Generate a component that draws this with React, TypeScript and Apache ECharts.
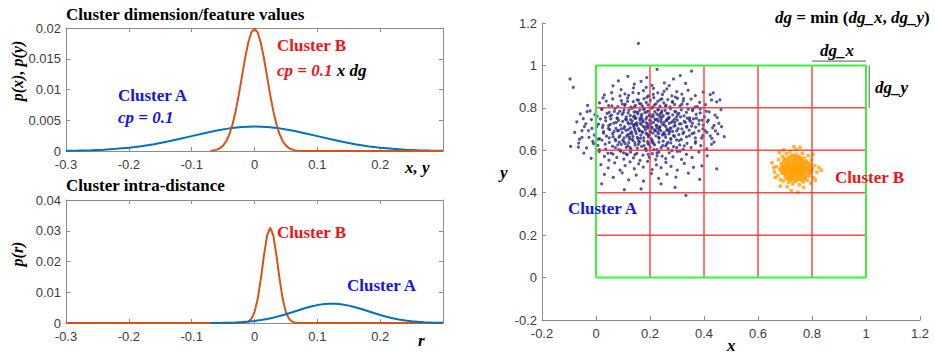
import React, { useEffect, useRef } from "react";
import * as echarts from "echarts";

// ---------- Top-left: cluster dimension/feature values ----------
const TOP_A_X = [-0.3,-0.28,-0.26,-0.24,-0.22,-0.2,-0.18,-0.16,-0.14,-0.12,-0.1,-0.08,-0.06,-0.04,-0.02,0,0.02,0.04,0.06,0.08,0.1,0.12,0.14,0.16,0.18,0.2,0.22,0.24,0.26,0.28,0.3];
const TOP_A_Y = [0.00004,0.00008,0.00014,0.00022,0.00035,0.00054,0.00079,0.00111,0.0015,0.00194,0.00242,0.0029,0.00333,0.00368,0.00391,0.00399,0.00391,0.00368,0.00333,0.0029,0.00242,0.00194,0.0015,0.00111,0.00079,0.00054,0.00035,0.00022,0.00014,0.00008,0.00004];
const TOP_B_X = [-0.07,-0.065,-0.06,-0.055,-0.05,-0.045,-0.04,-0.035,-0.03,-0.025,-0.02,-0.015,-0.01,-0.005,0,0.005,0.01,0.015,0.02,0.025,0.03,0.035,0.04,0.045,0.05,0.055,0.06,0.065,0.07,0.08,0.3];
const TOP_B_Y = [0.00004,0.0001,0.00022,0.00045,0.00088,0.00159,0.0027,0.00432,0.00648,0.00913,0.0121,0.0151,0.0176,0.0193,0.0199,0.0193,0.0176,0.0151,0.0121,0.00913,0.00648,0.00432,0.0027,0.00159,0.00088,0.00045,0.00022,0.0001,0.00004,0,0];

// ---------- Bottom-left: cluster intra-distance ----------
const BOT_B_X = [-0.3,-0.025,-0.02,-0.015,-0.01,-0.005,0,0.005,0.01,0.015,0.02,0.025,0.03,0.035,0.04,0.045,0.05,0.055,0.06,0.065,0.07,0.075,0.3];
const BOT_B_Y = [0,0,0.00003,0.00012,0.00044,0.00136,0.00354,0.0077,0.0142,0.0219,0.0284,0.031,0.0284,0.0219,0.0142,0.0077,0.00354,0.00136,0.00044,0.00012,0.00003,0,0];
const BOT_A_X = [-0.07,-0.06,-0.05,-0.04,-0.03,-0.02,-0.01,0,0.01,0.02,0.03,0.04,0.05,0.06,0.07,0.08,0.09,0.1,0.11,0.12,0.13,0.14,0.15,0.16,0.17,0.18,0.19,0.2,0.21,0.22,0.23,0.24,0.25,0.26,0.27,0.28,0.29,0.3];
const BOT_A_Y = [0.00002,0.00004,0.00007,0.00012,0.00019,0.0003,0.00045,0.00066,0.00094,0.0013,0.00174,0.00226,0.00285,0.00349,0.00415,0.00479,0.00536,0.00582,0.00614,0.00629,0.00625,0.00603,0.00565,0.00514,0.00454,0.00389,0.00323,0.00261,0.00205,0.00156,0.00115,0.00082,0.00057,0.00039,0.00025,0.00016,0.0001,0.00006];

// ---------- Right: scatter ----------
const CLUSTER_A: number[][] = [
[0.157,1.104],[-0.096,0.936],[-0.084,0.897],[-0.094,0.618],[-0.065,0.615],[0.459,0.838],[0.434,0.871],[0.447,0.828],
[0.021,0.442],[0.105,0.414],[0.167,0.418],[0.241,0.442],[0.293,0.425],[0.333,0.387],
[0.083,0.927],[0.142,0.912],[0.188,0.943],[0.226,0.981],[0.253,0.918],[0.287,0.936],[0.312,0.952],[0.354,0.973],[0.207,0.906],[0.118,0.948],[0.167,0.925],[0.271,0.905],[0.332,0.915],[0.063,0.904],
[0.058,0.872],[0.093,0.886],[0.121,0.859],[0.139,0.894],[0.158,0.868],[0.176,0.881],[0.194,0.856],[0.213,0.892],[0.229,0.871],[0.246,0.863],[0.262,0.889],[0.281,0.857],[0.299,0.876],[0.318,0.865],[0.341,0.883],[0.368,0.858],[0.397,0.874],[0.031,0.861],[0.186,0.897],[0.252,0.878],[0.107,0.866],[0.423,0.862],
[0.013,0.823],[0.047,0.811],[0.062,0.842],[0.081,0.806],[0.094,0.834],[0.108,0.817],[0.117,0.846],[0.129,0.803],[0.138,0.829],[0.146,0.812],[0.153,0.838],[0.161,0.821],[0.172,0.807],[0.178,0.843],[0.186,0.826],[0.193,0.814],[0.201,0.835],[0.209,0.802],[0.214,0.848],[0.222,0.819],[0.229,0.831],[0.237,0.808],[0.244,0.842],[0.251,0.824],[0.259,0.813],[0.266,0.839],[0.274,0.805],[0.283,0.827],[0.291,0.816],[0.302,0.845],[0.311,0.809],[0.323,0.832],[0.338,0.818],[0.352,0.841],[0.367,0.804],[0.384,0.826],[0.405,0.815],[0.428,0.837],[-0.031,0.812],[0.026,0.847],
[-0.058,0.772],[-0.022,0.786],[0.004,0.761],[0.021,0.793],[0.035,0.754],[0.049,0.779],[0.058,0.766],[0.071,0.797],[0.079,0.752],[0.088,0.784],[0.097,0.769],[0.104,0.791],[0.112,0.757],[0.119,0.776],[0.127,0.764],[0.133,0.798],[0.141,0.781],[0.148,0.753],[0.155,0.772],[0.162,0.789],[0.168,0.761],[0.175,0.794],[0.181,0.777],[0.188,0.756],[0.194,0.785],[0.199,0.768],[0.206,0.799],[0.212,0.759],[0.218,0.782],[0.225,0.771],[0.231,0.792],[0.238,0.755],[0.243,0.778],[0.249,0.763],[0.256,0.788],[0.262,0.774],[0.269,0.751],[0.276,0.796],[0.284,0.767],[0.292,0.783],[0.299,0.758],[0.307,0.774],[0.316,0.791],[0.326,0.762],[0.335,0.779],[0.347,0.753],[0.358,0.787],[0.371,0.769],[0.386,0.795],[0.402,0.758],[0.419,0.781],[0.441,0.766],[0.463,0.792],[0.142,0.762],[0.233,0.765],
[-0.071,0.734],[-0.043,0.712],[-0.017,0.745],[0.009,0.723],[0.024,0.707],[0.036,0.739],[0.047,0.716],[0.055,0.748],[0.066,0.728],[0.074,0.703],[0.083,0.741],[0.091,0.719],[0.099,0.736],[0.106,0.711],[0.113,0.744],[0.121,0.725],[0.127,0.706],[0.134,0.738],[0.139,0.717],[0.145,0.749],[0.151,0.729],[0.157,0.702],[0.163,0.743],[0.168,0.721],[0.174,0.735],[0.179,0.709],[0.185,0.747],[0.191,0.726],[0.196,0.714],[0.202,0.738],[0.207,0.703],[0.213,0.731],[0.219,0.746],[0.224,0.718],[0.23,0.737],[0.236,0.708],[0.241,0.744],[0.247,0.722],[0.253,0.733],[0.259,0.711],[0.265,0.748],[0.271,0.727],[0.278,0.705],[0.285,0.739],[0.293,0.716],[0.301,0.742],[0.309,0.724],[0.318,0.701],[0.327,0.736],[0.336,0.713],[0.346,0.745],[0.357,0.728],[0.369,0.709],[0.382,0.741],[0.397,0.719],[0.413,0.734],[0.432,0.706],[0.455,0.727],[0.118,0.732],[0.188,0.713],[0.262,0.741],[0.171,0.748],[0.226,0.704],[0.142,0.722],[0.292,0.731],
[-0.079,0.684],[-0.052,0.661],[-0.028,0.693],[-0.006,0.672],[0.013,0.655],[0.028,0.688],[0.039,0.667],[0.051,0.697],[0.062,0.678],[0.071,0.652],[0.08,0.691],[0.089,0.669],[0.097,0.683],[0.104,0.658],[0.111,0.694],[0.118,0.674],[0.124,0.653],[0.131,0.687],[0.137,0.665],[0.143,0.699],[0.149,0.679],[0.155,0.656],[0.161,0.692],[0.166,0.671],[0.172,0.684],[0.177,0.659],[0.183,0.697],[0.189,0.676],[0.194,0.663],[0.2,0.689],[0.205,0.654],[0.211,0.681],[0.217,0.696],[0.222,0.668],[0.228,0.686],[0.234,0.657],[0.24,0.693],[0.246,0.672],[0.252,0.683],[0.258,0.661],[0.264,0.698],[0.27,0.677],[0.277,0.655],[0.284,0.689],[0.291,0.666],[0.299,0.692],[0.307,0.674],[0.316,0.651],[0.325,0.686],[0.335,0.663],[0.345,0.695],[0.356,0.678],[0.368,0.658],[0.381,0.691],[0.395,0.669],[0.411,0.684],[0.429,0.656],[0.451,0.677],[0.475,0.664],[0.126,0.679],[0.197,0.671],[0.271,0.691],[0.165,0.656],[0.232,0.678],[0.085,0.662],
[-0.064,0.634],[-0.035,0.611],[-0.012,0.642],[0.007,0.623],[0.022,0.648],[0.036,0.606],[0.049,0.637],[0.061,0.619],[0.073,0.645],[0.084,0.603],[0.094,0.628],[0.103,0.641],[0.112,0.614],[0.121,0.636],[0.129,0.607],[0.137,0.647],[0.145,0.624],[0.153,0.61],[0.161,0.639],[0.169,0.618],[0.177,0.644],[0.185,0.605],[0.193,0.631],[0.201,0.615],[0.209,0.646],[0.217,0.626],[0.225,0.603],[0.233,0.638],[0.241,0.612],[0.249,0.643],[0.258,0.621],[0.267,0.608],[0.277,0.635],[0.287,0.617],[0.298,0.649],[0.31,0.625],[0.323,0.604],[0.337,0.633],[0.352,0.613],[0.369,0.641],[0.388,0.622],[0.41,0.607],[0.437,0.638],[0.213,0.633],[0.157,0.628],[0.118,0.622],[0.262,0.629],[0.191,0.641],[0.081,0.625],
[-0.045,0.587],[-0.018,0.562],[0.012,0.594],[0.031,0.571],[0.048,0.553],[0.063,0.582],[0.077,0.566],[0.091,0.596],[0.103,0.558],[0.116,0.579],[0.128,0.591],[0.139,0.564],[0.151,0.585],[0.163,0.552],[0.174,0.577],[0.186,0.598],[0.197,0.567],[0.209,0.584],[0.221,0.556],[0.233,0.592],[0.245,0.573],[0.258,0.561],[0.271,0.588],[0.285,0.569],[0.301,0.595],[0.317,0.557],[0.335,0.581],[0.356,0.566],[0.381,0.592],[0.412,0.574],[0.144,0.579],[0.226,0.574],[0.193,0.581],[0.102,0.588],
[0.018,0.532],[0.045,0.517],[0.069,0.541],[0.089,0.506],[0.108,0.528],[0.126,0.545],[0.142,0.513],[0.158,0.536],[0.175,0.521],[0.191,0.548],[0.208,0.509],[0.224,0.531],[0.241,0.518],[0.259,0.543],[0.278,0.524],[0.301,0.507],[0.327,0.538],[0.361,0.519],[0.392,0.527],[0.447,0.512],
[0.031,0.486],[0.064,0.472],[0.097,0.494],[0.121,0.461],[0.149,0.483],[0.176,0.455],[0.205,0.491],[0.232,0.468],[0.263,0.487],[0.296,0.474],[0.342,0.492],[0.384,0.463]
];

const CLUSTER_A_CORE: number[][] = [
[0.003,0.712],[0.016,0.748],[0.028,0.681],[0.041,0.774],[0.009,0.652],[0.034,0.629],[0.046,0.703],[0.022,0.795],[0.038,0.832],[0.012,0.603],[0.044,0.586],[-0.004,0.768],[0.026,0.718],[0.049,0.659],
[0.053,0.722],[0.067,0.689],[0.078,0.751],[0.086,0.638],[0.059,0.809],[0.072,0.612],[0.094,0.701],[0.081,0.773],[0.063,0.664],[0.097,0.819],[0.056,0.587],[0.089,0.856],[0.075,0.731],[0.099,0.647],[0.068,0.783],[0.084,0.694],[0.052,0.761],[0.091,0.598],
[0.103,0.703],[0.114,0.667],[0.122,0.789],[0.131,0.726],[0.108,0.631],[0.139,0.758],[0.146,0.689],[0.117,0.831],[0.126,0.612],[0.142,0.804],[0.109,0.746],[0.134,0.651],[0.148,0.724],[0.119,0.697],[0.137,0.872],[0.101,0.778],[0.128,0.744],[0.144,0.636],[0.112,0.583],[0.133,0.679],[0.147,0.781],[0.106,0.812],[0.124,0.662],[0.141,0.708],
[0.152,0.717],[0.163,0.752],[0.171,0.688],[0.179,0.794],[0.158,0.643],[0.186,0.729],[0.194,0.671],[0.167,0.818],[0.183,0.607],[0.197,0.763],[0.155,0.779],[0.174,0.737],[0.189,0.851],[0.161,0.694],[0.178,0.622],[0.192,0.704],[0.169,0.769],[0.199,0.742],[0.157,0.836],[0.185,0.681],[0.176,0.712],[0.153,0.661],[0.195,0.628],[0.164,0.728],[0.188,0.781],
[0.203,0.724],[0.211,0.768],[0.219,0.692],[0.227,0.747],[0.236,0.711],[0.244,0.786],[0.208,0.639],[0.216,0.813],[0.232,0.661],[0.241,0.733],[0.249,0.679],[0.205,0.758],[0.223,0.716],[0.238,0.839],[0.214,0.603],[0.229,0.791],[0.247,0.622],[0.202,0.686],[0.221,0.744],[0.234,0.697],[0.245,0.757],[0.212,0.864],[0.226,0.587],[0.239,0.773],[0.207,0.709],
[0.253,0.719],[0.262,0.694],[0.271,0.756],[0.279,0.731],[0.287,0.669],[0.296,0.781],[0.258,0.808],[0.266,0.637],[0.274,0.703],[0.283,0.829],[0.291,0.747],[0.299,0.612],[0.256,0.673],[0.268,0.774],[0.277,0.652],[0.289,0.714],[0.294,0.851],[0.261,0.741],[0.281,0.598],[0.273,0.687],
[0.304,0.702],[0.313,0.758],[0.322,0.679],[0.331,0.731],[0.342,0.794],[0.308,0.646],[0.318,0.817],[0.327,0.621],[0.336,0.709],[0.346,0.668],[0.303,0.769],[0.315,0.724],[0.338,0.752],[0.324,0.843],[0.349,0.737],[0.311,0.596],
[0.354,0.714],[0.363,0.682],[0.372,0.751],[0.381,0.723],[0.391,0.657],[0.358,0.793],[0.368,0.634],[0.386,0.776],[0.396,0.701],[0.375,0.806],[0.361,0.748],[0.393,0.742],
[0.404,0.693],[0.416,0.742],[0.423,0.668],[0.437,0.717],[0.449,0.754],[0.408,0.784],[0.428,0.628],[0.442,0.691],[0.465,0.711],
[-0.038,0.724],[-0.052,0.693],[-0.026,0.661],[-0.047,0.749],[-0.015,0.703],[-0.061,0.652],[-0.033,0.782],[-0.009,0.631]
];

const CLUSTER_B: number[][] = [
[0.712,0.546],[0.724,0.543],[0.735,0.548],[0.747,0.544],[0.758,0.547],[0.731,0.552],
[0.703,0.538],[0.715,0.536],[0.727,0.539],[0.739,0.535],[0.751,0.538],[0.763,0.536],[0.772,0.539],
[0.698,0.529],[0.709,0.531],[0.721,0.528],[0.733,0.532],[0.744,0.529],[0.756,0.531],[0.767,0.528],[0.778,0.531],
[0.694,0.522],[0.705,0.52],[0.717,0.523],[0.729,0.521],[0.74,0.524],[0.752,0.52],[0.763,0.523],[0.775,0.521],[0.785,0.523],
[0.692,0.514],[0.703,0.512],[0.714,0.515],[0.726,0.513],[0.737,0.516],[0.749,0.512],[0.76,0.515],[0.771,0.513],[0.783,0.515],
[0.695,0.506],[0.706,0.504],[0.718,0.507],[0.73,0.505],[0.741,0.508],[0.753,0.504],[0.764,0.507],[0.776,0.505],[0.787,0.507],
[0.699,0.498],[0.711,0.496],[0.722,0.499],[0.734,0.497],[0.745,0.5],[0.757,0.496],[0.768,0.499],[0.779,0.497],
[0.704,0.49],[0.716,0.488],[0.728,0.491],[0.739,0.489],[0.751,0.492],[0.762,0.488],[0.773,0.491],
[0.711,0.482],[0.723,0.48],[0.735,0.483],[0.746,0.481],[0.758,0.484],[0.768,0.481],
[0.719,0.474],[0.731,0.472],[0.743,0.475],[0.755,0.473],
[0.727,0.517],[0.744,0.509],[0.736,0.501],[0.752,0.527],[0.719,0.511],[0.761,0.503],[0.708,0.517],[0.741,0.536],[0.733,0.487],[0.767,0.517],
[0.718,0.558],[0.729,0.562],[0.741,0.559],[0.752,0.556],[0.764,0.553],[0.735,0.571],[0.747,0.567],[0.724,0.574],[0.758,0.566],[0.741,0.581],
[0.708,0.552],[0.776,0.546],[0.784,0.538],[0.791,0.527],[0.796,0.516],[0.794,0.503],[0.789,0.491],[0.782,0.478],[0.773,0.466],[0.761,0.459],[0.748,0.462],[0.736,0.461],[0.724,0.463],[0.712,0.469],[0.701,0.482],[0.693,0.493],[0.687,0.505],[0.685,0.518],[0.688,0.531],[0.695,0.545],[0.701,0.556],
[0.746,0.518],[0.733,0.526],[0.757,0.511],[0.722,0.505],[0.739,0.493],[0.769,0.526],[0.714,0.528],[0.751,0.547],[0.726,0.484],
[0.652,0.541],[0.661,0.498],[0.668,0.523],[0.672,0.481],[0.676,0.556],[0.681,0.509],[0.683,0.462],[0.687,0.538],[0.689,0.492],[0.691,0.571],[0.694,0.455],[0.697,0.561],[0.701,0.473],[0.705,0.584],[0.708,0.463],[0.712,0.567],[0.714,0.447],[0.718,0.593],[0.721,0.458],[0.726,0.576],[0.729,0.441],[0.734,0.564],[0.737,0.452],[0.741,0.604],[0.745,0.461],[0.749,0.571],[0.753,0.437],[0.757,0.559],[0.761,0.466],[0.764,0.585],[0.768,0.451],[0.771,0.562],[0.775,0.472],[0.779,0.549],[0.782,0.459],[0.786,0.574],[0.789,0.481],[0.792,0.538],[0.795,0.495],[0.798,0.557],[0.801,0.512],[0.806,0.471],[0.811,0.528],[0.818,0.497],[0.826,0.519],[0.835,0.505],[0.664,0.472],[0.679,0.589],[0.723,0.409],[0.748,0.402],[0.769,0.425],[0.708,0.428],[0.795,0.445],[0.803,0.581],[0.658,0.518],[0.683,0.431],[0.733,0.617],[0.812,0.459],[0.756,0.614],[0.695,0.602]
];

const GRID_LINES = [0.2, 0.4, 0.6, 0.8];
const BOX = [[0, 0], [1, 0], [1, 1], [0, 1], [0, 0]];
const DGX_LINE = [[0.8, 1.02], [1.0, 1.02]];
const DGY_LINE = [[1.012, 1.0], [1.012, 0.8]];

const BLUE = "#0072BD";
const ORANGE = "#D95319";
const TXT_RED = "#f01414";
const TXT_BLUE = "#1414e6";
const SERIF = "'Liberation Serif', 'Times New Roman', serif";
const SANS = "'Liberation Sans', Arial, sans-serif";

const zip = (xs: number[], ys: number[]) => xs.map((x, i) => [x, ys[i]]);

const fmt = (v: number) => {
  const r = Math.round(v * 1000) / 1000;
  return String(r);
};

export default function App() {
  const ref = useRef<HTMLDivElement>(null);
  useEffect(() => {
    document.body.style.margin = "0";
    const chart = echarts.init(ref.current!, null, { renderer: "svg" });
    const axisGray = "#8c8c8c";
    const label = { fontFamily: SANS, fontSize: 13, color: "#3c3c3c" };
    const mkX = (grid: number, pos: "bottom" | "top", show: boolean, min: number, max: number, interval: number, hideLast: boolean) => ({
      type: "value", gridIndex: grid, position: pos, min, max, interval,
      axisLine: { show: true, onZero: false, lineStyle: { color: axisGray, width: 1 } },
      axisTick: { show: true, inside: true, length: 4, lineStyle: { color: axisGray } },
      axisLabel: {
        show, margin: 7, ...label,
        formatter: (v: number) => (hideLast && Math.abs(v - max) < 1e-9 ? "" : fmt(v)),
      },
      splitLine: { show: false },
    });
    const mkY = (grid: number, pos: "left" | "right", show: boolean, min: number, max: number, interval: number) => ({
      type: "value", gridIndex: grid, position: pos, min, max, interval,
      axisLine: { show: true, onZero: false, lineStyle: { color: axisGray, width: 1 } },
      axisTick: { show: true, inside: true, length: 4, lineStyle: { color: axisGray } },
      axisLabel: { show, margin: 5, ...label, formatter: (v: number) => fmt(v) },
      splitLine: { show: false },
    });
    const redLines = GRID_LINES.flatMap((g) => [
      { type: "line", xAxisIndex: 4, yAxisIndex: 4, data: [[g, 0], [g, 1]], symbol: "none", z: 5, lineStyle: { color: "#ff2a2a", width: 1.5, opacity: 0.85 } },
      { type: "line", xAxisIndex: 4, yAxisIndex: 4, data: [[0, g], [1, g]], symbol: "none", z: 5, lineStyle: { color: "#ff2a2a", width: 1.5, opacity: 0.85 } },
    ]);
    const F = `bold 17px ${SERIF}`;
    const FI = `italic bold 17px ${SERIF}`;
    const txt = (x: number, y: number, text: string, fill: string, opts: any = {}) => ({
      type: "text", x, y, z: 100,
      style: {
        text, fill, font: opts.font || F,
        textAlign: opts.align || "left", textVerticalAlign: "middle", rich: opts.rich,
      },
      rotation: opts.rotation || 0,
    });
    chart.setOption({
      animation: false,
      grid: [
        { left: 66, top: 28, width: 377, height: 123 },
        { left: 66, top: 200, width: 377, height: 123 },
        { left: 542, top: 23, width: 378, height: 297 },
      ],
      xAxis: [
        mkX(0, "bottom", true, -0.3, 0.3, 0.1, true),
        mkX(0, "top", false, -0.3, 0.3, 0.1, true),
        mkX(1, "bottom", true, -0.3, 0.3, 0.1, true),
        mkX(1, "top", false, -0.3, 0.3, 0.1, true),
        mkX(2, "bottom", true, -0.2, 1.2, 0.2, false),
      ],
      yAxis: [
        mkY(0, "left", true, 0, 0.02, 0.005),
        mkY(0, "right", false, 0, 0.02, 0.005),
        mkY(1, "left", true, 0, 0.04, 0.01),
        mkY(1, "right", false, 0, 0.04, 0.01),
        mkY(2, "left", true, -0.2, 1.2, 0.2),
      ],
      series: [
        { type: "line", xAxisIndex: 0, yAxisIndex: 0, data: zip(TOP_A_X, TOP_A_Y), symbol: "none", lineStyle: { color: BLUE, width: 2 }, z: 2 },
        { type: "line", xAxisIndex: 0, yAxisIndex: 0, data: zip(TOP_B_X, TOP_B_Y), symbol: "none", lineStyle: { color: ORANGE, width: 2 }, z: 3 },
        { type: "line", xAxisIndex: 2, yAxisIndex: 2, data: zip(BOT_B_X, BOT_B_Y), symbol: "none", lineStyle: { color: ORANGE, width: 2 }, z: 2 },
        { type: "line", xAxisIndex: 2, yAxisIndex: 2, data: zip(BOT_A_X, BOT_A_Y), symbol: "none", lineStyle: { color: BLUE, width: 2 }, z: 3 },
        { type: "scatter", xAxisIndex: 4, yAxisIndex: 4, data: CLUSTER_A.concat(CLUSTER_A_CORE), symbol: "circle", symbolSize: 3.2, itemStyle: { color: "#2e2a88" }, z: 2 },
        { type: "scatter", xAxisIndex: 4, yAxisIndex: 4, data: CLUSTER_B, symbol: "rect", symbolSize: 3.5, itemStyle: { color: "#ffa10a" }, z: 2 },
        ...redLines,
        { type: "line", xAxisIndex: 4, yAxisIndex: 4, data: BOX, symbol: "none", z: 6, lineStyle: { color: "#3cf03c", width: 2 } },
        { type: "line", xAxisIndex: 4, yAxisIndex: 4, data: DGX_LINE, symbol: "none", z: 6, lineStyle: { color: "#7a7a7a", width: 1.2 } },
        { type: "line", xAxisIndex: 4, yAxisIndex: 4, data: DGY_LINE, symbol: "none", z: 6, lineStyle: { color: "#7a7a7a", width: 1.2 } },
      ],
      graphic: [
        txt(66, 14, "Cluster dimension/feature values", "#000"),
        txt(66, 185, "Cluster intra-distance", "#000"),
        txt(17, 71, "p(x), p(y)", "#000", { font: `italic bold 16px ${SERIF}`, align: "center", rotation: Math.PI / 2 }),
        txt(17, 254, "p(r)", "#000", { font: `italic bold 16px ${SERIF}`, align: "center", rotation: Math.PI / 2 }),
        txt(405, 167, "x, y", "#000", { font: FI }),
        txt(418, 340, "r", "#000", { font: FI }),
        txt(118, 95, "Cluster A", TXT_BLUE),
        txt(118, 117, "cp = 0.1", TXT_BLUE, { font: FI }),
        txt(277, 45, "Cluster B", TXT_RED),
        txt(277, 70, "{r|cp = 0.1} {k|x dg}", TXT_RED, {
          font: FI,
          rich: {
            r: { fill: TXT_RED, font: FI },
            k: { fill: "#000", font: FI },
          },
        }),
        txt(277, 232, "Cluster B", TXT_RED),
        txt(347, 285, "Cluster A", TXT_BLUE),
        txt(568, 208, "Cluster A", TXT_BLUE),
        txt(835, 177, "Cluster B", TXT_RED),
        txt(775, 17, "{i|dg} {n|= min (}{i|dg_x}{n|, }{i|dg_y}{n|)}", "#000", {
          rich: {
            i: { fill: "#000", font: FI },
            n: { fill: "#000", font: F },
          },
        }),
        txt(820, 50, "dg_x", "#000", { font: FI }),
        txt(875, 87, "dg_y", "#000", { font: FI }),
        txt(727, 345, "x", "#000", { font: FI }),
        txt(500, 172, "y", "#000", { font: FI }),
      ],
    });
    return () => chart.dispose();
  }, []);
  return <div ref={ref} style={{ width: 935, height: 353 }} />;
}
